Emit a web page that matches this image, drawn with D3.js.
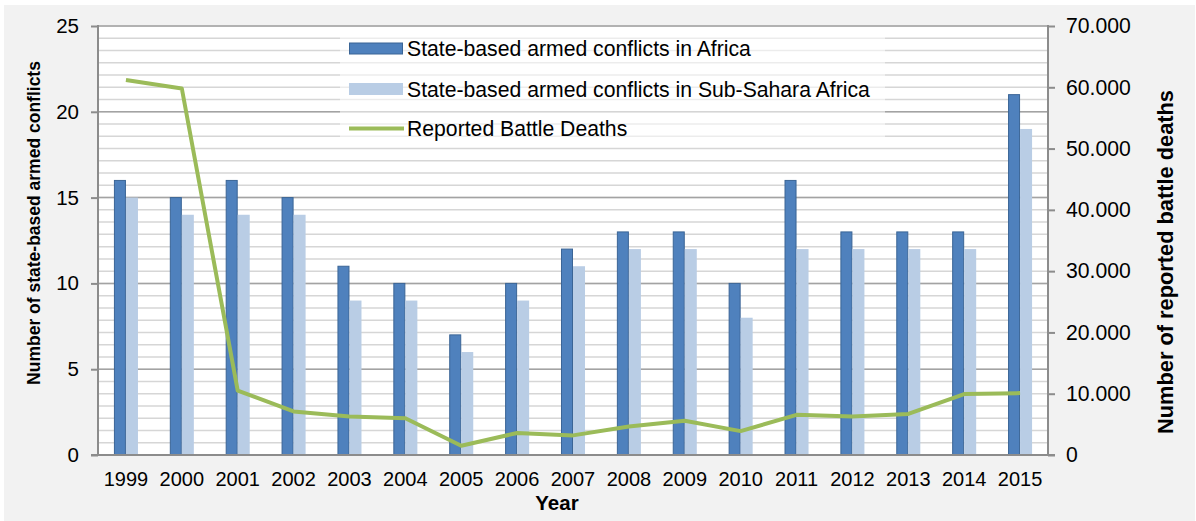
<!DOCTYPE html>
<html>
<head>
<meta charset="utf-8">
<script src="https://cdn.jsdelivr.net/npm/d3@7"></script>
<style>
  html, body { margin: 0; padding: 0; background: #ffffff; }
  svg { display: block; font-family: "Liberation Sans", Arial, sans-serif; }
</style>
</head>
<body>
<svg id="chart" width="1196" height="521"></svg>
<script>
// Years on the category axis
const years = ["1999","2000","2001","2002","2003","2004","2005","2006","2007","2008",
               "2009","2010","2011","2012","2013","2014","2015"];

// Number of state-based armed conflicts (left axis)
const conflictsAfrica    = [16, 15, 16, 15, 11, 10, 7, 10, 12, 13, 13, 10, 16, 13, 13, 13, 21];
const conflictsSubSahara = [15, 14, 14, 14,  9,  9, 6,  9, 11, 12, 12,  8, 12, 12, 12, 12, 19];

// Reported battle deaths (right axis)
const battleDeaths = [61200, 59800, 10500, 7100, 6300, 6000, 1500, 3600, 3200, 4650,
                      5600, 3900, 6550, 6300, 6700, 9950, 10100];

// Axis ticks
const leftTicks  = [0, 5, 10, 15, 20, 25];
const rightTicks = [0, 10000, 20000, 30000, 40000, 50000, 60000, 70000];
const rightMinorStep = 2000;

const seriesNames = [
  "State-based armed conflicts in Africa",
  "State-based armed conflicts in Sub-Sahara Africa",
  "Reported Battle Deaths"
];

const colors = {
  africa: "#4f81bd",
  africaStroke: "#3b6596",
  subSahara: "#b9cde5",
  deaths: "#9bbb59",
  gridMinor: "#d6d6d6",
  gridMajor: "#a3a3a3",
  axis: "#8c8c8c",
  text: "#000000"
};

const FONT = "Liberation Sans, Arial, sans-serif";
const svg = d3.select("#chart");
const W = 1196, H = 521;
const plot = { left: 98, right: 1048, top: 26, bottom: 455 };

// outer chart background
svg.append("rect").attr("x", 0).attr("y", 0).attr("width", W).attr("height", H).attr("fill", "#ffffff");
svg.append("rect").attr("x", 4).attr("y", 5).attr("width", W - 5).attr("height", H - 5).attr("fill", "#f2f2f2");

// plot area
svg.append("rect")
  .attr("x", plot.left).attr("y", plot.top)
  .attr("width", plot.right - plot.left).attr("height", plot.bottom - plot.top)
  .attr("fill", "#ffffff");

// scales
const x0 = d3.scaleBand().domain(years).range([plot.left, plot.right])
  .paddingInner(0.57).paddingOuter(0.285);
const x1 = d3.scaleBand().domain(["africa", "subSahara"]).range([0, x0.bandwidth()]);
const yL = d3.scaleLinear().domain([0, 25]).range([plot.bottom, plot.top]);
const yR = d3.scaleLinear().domain([0, 70000]).range([plot.bottom, plot.top]);
const cx = d => x0(d) + x0.bandwidth() / 2;

// minor gridlines from the right axis
const minorVals = d3.range(rightMinorStep, 70000 + 1, rightMinorStep);
svg.append("g").selectAll("line").data(minorVals).join("line")
  .attr("x1", plot.left).attr("x2", plot.right)
  .attr("y1", d => yR(d)).attr("y2", d => yR(d))
  .attr("stroke", colors.gridMinor).attr("stroke-width", 1.5);

// major gridlines from the left axis
svg.append("g").selectAll("line").data(leftTicks.filter(d => d > 0)).join("line")
  .attr("x1", plot.left).attr("x2", plot.right)
  .attr("y1", d => yL(d)).attr("y2", d => yL(d))
  .attr("stroke", colors.gridMajor).attr("stroke-width", 1.5);

// bars
const bars = svg.append("g");
years.forEach((yr, i) => {
  const ya = yL(conflictsAfrica[i]);
  bars.append("rect")
    .attr("x", x0(yr) + x1("africa") + 0.5).attr("y", ya)
    .attr("width", x1.bandwidth() - 1).attr("height", plot.bottom - ya)
    .attr("fill", colors.africa).attr("stroke", colors.africaStroke).attr("stroke-width", 1);
  const ys = yL(conflictsSubSahara[i]);
  bars.append("rect")
    .attr("x", x0(yr) + x1("subSahara")).attr("y", ys)
    .attr("width", x1.bandwidth()).attr("height", plot.bottom - ys)
    .attr("fill", colors.subSahara);
});

// battle deaths line
const line = d3.line().x((d, i) => cx(years[i])).y(d => yR(d));
svg.append("path").datum(battleDeaths)
  .attr("d", line)
  .attr("fill", "none").attr("stroke", colors.deaths)
  .attr("stroke-width", 4).attr("stroke-linejoin", "round");

// legend (translucent box over the grid)
const lg = svg.append("g");
lg.append("rect").attr("x", 340).attr("y", 28).attr("width", 545).attr("height", 118)
  .attr("fill", "#ffffff").attr("fill-opacity", 0.55);
const legendRows = [48.5, 89, 128.5];
lg.append("rect").attr("x", 349.5).attr("y", legendRows[0] - 5.5).attr("width", 53).attr("height", 11)
  .attr("fill", colors.africa).attr("stroke", colors.africaStroke).attr("stroke-width", 1);
lg.append("rect").attr("x", 349).attr("y", legendRows[1] - 6).attr("width", 54).attr("height", 12)
  .attr("fill", colors.subSahara);
lg.append("line").attr("x1", 349).attr("x2", 404).attr("y1", legendRows[2]).attr("y2", legendRows[2])
  .attr("stroke", colors.deaths).attr("stroke-width", 4);
seriesNames.forEach((name, i) => {
  lg.append("text").attr("x", 407).attr("y", legendRows[i])
    .attr("dy", "0.36em").attr("font-size", 21.2).attr("fill", colors.text).text(name);
});

// left axis
const axisL = d3.axisLeft(yL).tickValues(leftTicks).tickSize(7).tickPadding(12).tickFormat(d3.format("d"));
const gL = svg.append("g").attr("transform", `translate(${plot.left},0)`).call(axisL);
gL.select(".domain").remove();
gL.selectAll(".tick line").attr("stroke", colors.axis).attr("stroke-width", 2);
gL.selectAll(".tick text").attr("font-size", 20.5).attr("font-family", FONT).attr("fill", colors.text);
svg.append("line").attr("x1", plot.left).attr("x2", plot.left).attr("y1", plot.top - 1).attr("y2", plot.bottom + 1)
  .attr("stroke", colors.axis).attr("stroke-width", 2);

// right axis
const locale = d3.formatLocale({ decimal: ",", thousands: ".", grouping: [3], currency: ["", ""] });
const fmtR = locale.format(",d");
const axisR = d3.axisRight(yR).tickValues(rightTicks).tickSize(7).tickPadding(11).tickFormat(fmtR);
const gR = svg.append("g").attr("transform", `translate(${plot.right},0)`).call(axisR);
gR.select(".domain").remove();
gR.selectAll(".tick line").attr("stroke", colors.axis).attr("stroke-width", 2);
gR.selectAll(".tick text").attr("font-size", 21.2).attr("font-family", FONT).attr("fill", colors.text);
svg.append("line").attr("x1", plot.right).attr("x2", plot.right).attr("y1", plot.top - 1).attr("y2", plot.bottom + 1)
  .attr("stroke", colors.axis).attr("stroke-width", 2);

// bottom axis
const axisB = d3.axisBottom(x0).tickSize(0).tickPadding(17);
const gB = svg.append("g").attr("transform", `translate(0,${plot.bottom})`).call(axisB);
gB.select(".domain").remove();
gB.selectAll(".tick text").attr("font-size", 20).attr("font-family", FONT).attr("fill", colors.text);
svg.append("line").attr("x1", plot.left - 7).attr("x2", plot.right + 7).attr("y1", plot.bottom).attr("y2", plot.bottom)
  .attr("stroke", colors.axis).attr("stroke-width", 2);

// axis titles
svg.append("text").attr("x", 557).attr("y", 510).attr("text-anchor", "middle")
  .attr("font-size", 20.5).attr("font-weight", "bold").text("Year");
svg.append("text").attr("transform", "translate(40,223) rotate(-90)").attr("text-anchor", "middle")
  .attr("font-size", 17.5).attr("font-weight", "bold").text("Number of state-based armed conflicts");
svg.append("text").attr("transform", "translate(1173,262) rotate(-90)").attr("text-anchor", "middle")
  .attr("font-size", 21.8).attr("font-weight", "bold").text("Number of reported battle deaths");
</script>
</body>
</html>
